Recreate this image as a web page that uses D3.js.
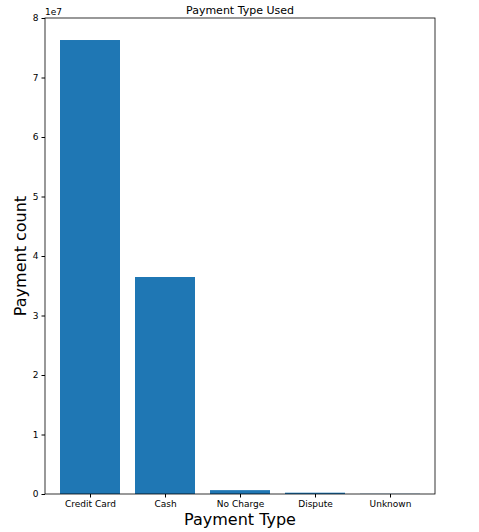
<!DOCTYPE html><html><head><meta charset="utf-8"><script src="https://cdn.jsdelivr.net/npm/d3@7"></script>
<style>body{margin:0;background:#fff}text{font-family:"DejaVu Sans",sans-serif}</style></head><body><svg id="c" width="479" height="532"></svg>
<script>
const categories=["Credit Card","Cash","No Charge","Dispute","Unknown"];
const values=[76300000,36470000,650000,220000,30000];
const yTicks=[0,1,2,3,4,5,6,7,8];
const svg=d3.select("#c");
const L=45,R=435,T=18,B=494;
const x=d3.scaleLinear().domain([-0.6,4.6]).range([L,R]);
const y=d3.scaleLinear().domain([0,8e7]).range([B,T]);
svg.append("rect").attr("x",0).attr("y",0).attr("width",479).attr("height",532).attr("fill","#fff");
svg.selectAll(".b").data(values).enter().append("rect").attr("fill","#1f77b4")
 .attr("x",(d,i)=>x(i-0.4)).attr("width",x(0.8)-x(0)).attr("y",d=>y(d)).attr("height",d=>B-y(d));
const ya=svg.append("g").attr("transform",`translate(${L},0)`).call(d3.axisLeft(y).tickValues(yTicks.map(v=>v*1e7)).tickFormat((d,i)=>yTicks[i]).tickSize(3.5).tickPadding(3));
const xa=svg.append("g").attr("transform",`translate(0,${B})`).call(d3.axisBottom(x).tickValues(d3.range(5)).tickFormat(i=>categories[i]).tickSize(3.5).tickPadding(3));
[ya,xa].forEach(a=>{a.select(".domain").remove();a.selectAll("text").attr("font-size",9).attr("fill","#000");a.selectAll("line").attr("stroke","#000");});
svg.append("rect").attr("x",L).attr("y",T).attr("width",R-L).attr("height",B-T).attr("fill","none").attr("stroke","#000").attr("stroke-width",0.8);
svg.append("text").attr("x",L).attr("y",T-3).attr("font-size",9).text("1e7");
svg.append("text").attr("x",(L+R)/2).attr("y",T-4).attr("text-anchor","middle").attr("font-size",11).text("Payment Type Used");
svg.append("text").attr("x",(L+R)/2).attr("y",525).attr("text-anchor","middle").attr("font-size",16).text("Payment Type");
svg.append("text").attr("transform",`translate(26,${(T+B)/2}) rotate(-90)`).attr("text-anchor","middle").attr("font-size",16).text("Payment count");
</script></body></html>
